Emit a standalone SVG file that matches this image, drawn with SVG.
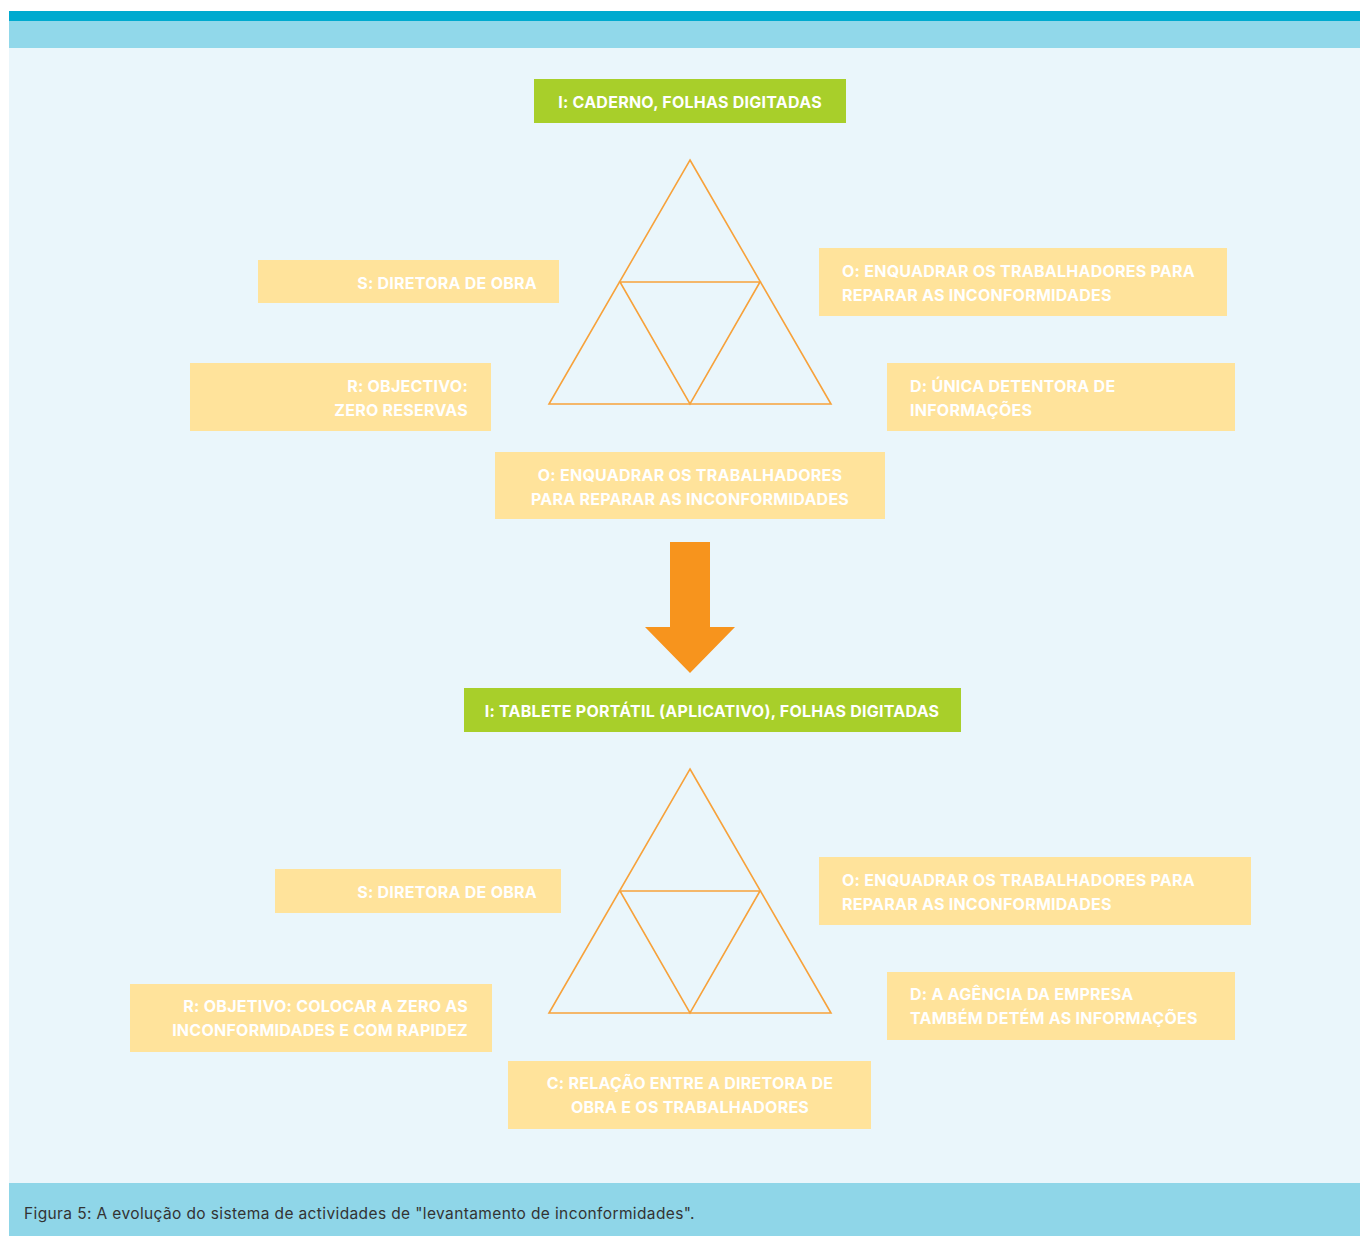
<svg xmlns="http://www.w3.org/2000/svg" width="1360" height="1236" viewBox="0 0 1360 1236">
<style>
.t{font-family:Inter,"Liberation Sans",sans-serif;font-weight:700;font-size:16px;fill:#ffffff;letter-spacing:0.25px}
.y{fill:#FFE39B}
.g{fill:#A8CF2A}
.tri{fill:none;stroke:#F7A23B;stroke-width:1.6;stroke-linejoin:miter}
.cap{font-family:Inter,"Liberation Sans",sans-serif;font-size:15.5px;fill:#333333;letter-spacing:0.38px}
</style>
<rect x="0" y="0" width="1360" height="1236" fill="#ffffff"/>
<rect x="9" y="11" width="1351" height="10" fill="#00AACF"/>
<rect x="9" y="21" width="1351" height="27" fill="#91D8EA"/>
<rect x="9" y="48" width="1351" height="1135" fill="#EAF6FB"/>
<rect x="9" y="1183" width="1351" height="53" fill="#8FD6E8"/>

<g id="connectors">
<g id="triangle1">
<polygon class="tri" points="690,160 831,404 549,404"/>
<polygon class="tri" points="620,282 760,282 690,404"/>
</g>
<g id="triangle2">
<polygon class="tri" points="690,769 831,1013 549,1013"/>
<polygon class="tri" points="620,891 760,891 690,1013"/>
</g>
<polygon id="arrow" points="670,542 710,542 710,627 735,627 690,673 645,627 670,627" fill="#F7941D"/>
</g>

<g id="n-i1"><rect class="g" x="534" y="79" width="312" height="44"/><text class="t" x="690" y="108" text-anchor="middle">I: CADERNO, FOLHAS DIGITADAS</text></g>
<g id="n-s1"><rect class="y" x="258" y="260" width="301" height="43"/><text class="t" x="537" y="289" text-anchor="end">S: DIRETORA DE OBRA</text></g>
<g id="n-o1"><rect class="y" x="819" y="248" width="408" height="68"/><text class="t" x="842" y="277">O: ENQUADRAR OS TRABALHADORES PARA</text><text class="t" x="842" y="301">REPARAR AS INCONFORMIDADES</text></g>
<g id="n-r1"><rect class="y" x="190" y="363" width="301" height="68"/><text class="t" x="468" y="392" text-anchor="end">R: OBJECTIVO:</text><text class="t" x="468" y="416" text-anchor="end">ZERO RESERVAS</text></g>
<g id="n-d1"><rect class="y" x="887" y="363" width="348" height="68"/><text class="t" x="910" y="392">D: ÚNICA DETENTORA DE</text><text class="t" x="910" y="416">INFORMAÇÕES</text></g>
<g id="n-o1b"><rect class="y" x="495" y="452" width="390" height="67"/><text class="t" x="690" y="481" text-anchor="middle">O: ENQUADRAR OS TRABALHADORES</text><text class="t" x="690" y="505" text-anchor="middle">PARA REPARAR AS INCONFORMIDADES</text></g>

<g id="n-i2"><rect class="g" x="464" y="688" width="497" height="44"/><text class="t" x="712" y="717" text-anchor="middle">I: TABLETE PORTÁTIL (APLICATIVO), FOLHAS DIGITADAS</text></g>
<g id="n-s2"><rect class="y" x="275" y="869" width="286" height="44"/><text class="t" x="537" y="898" text-anchor="end">S: DIRETORA DE OBRA</text></g>
<g id="n-o2"><rect class="y" x="819" y="857" width="432" height="68"/><text class="t" x="842" y="886">O: ENQUADRAR OS TRABALHADORES PARA</text><text class="t" x="842" y="910">REPARAR AS INCONFORMIDADES</text></g>
<g id="n-r2"><rect class="y" x="130" y="984" width="362" height="68"/><text class="t" x="468" y="1012" text-anchor="end">R: OBJETIVO: COLOCAR A ZERO AS</text><text class="t" x="468" y="1036" text-anchor="end">INCONFORMIDADES E COM RAPIDEZ</text></g>
<g id="n-d2"><rect class="y" x="887" y="972" width="348" height="68"/><text class="t" x="910" y="1000">D: A AGÊNCIA DA EMPRESA</text><text class="t" x="910" y="1024">TAMBÉM DETÉM AS INFORMAÇÕES</text></g>
<g id="n-c"><rect class="y" x="508" y="1061" width="363" height="68"/><text class="t" x="690" y="1089" text-anchor="middle">C: RELAÇÃO ENTRE A DIRETORA DE</text><text class="t" x="690" y="1113" text-anchor="middle">OBRA E OS TRABALHADORES</text></g>

<text class="cap" x="24" y="1219">Figura 5: A evolução do sistema de actividades de "levantamento de inconformidades".</text>
</svg>
